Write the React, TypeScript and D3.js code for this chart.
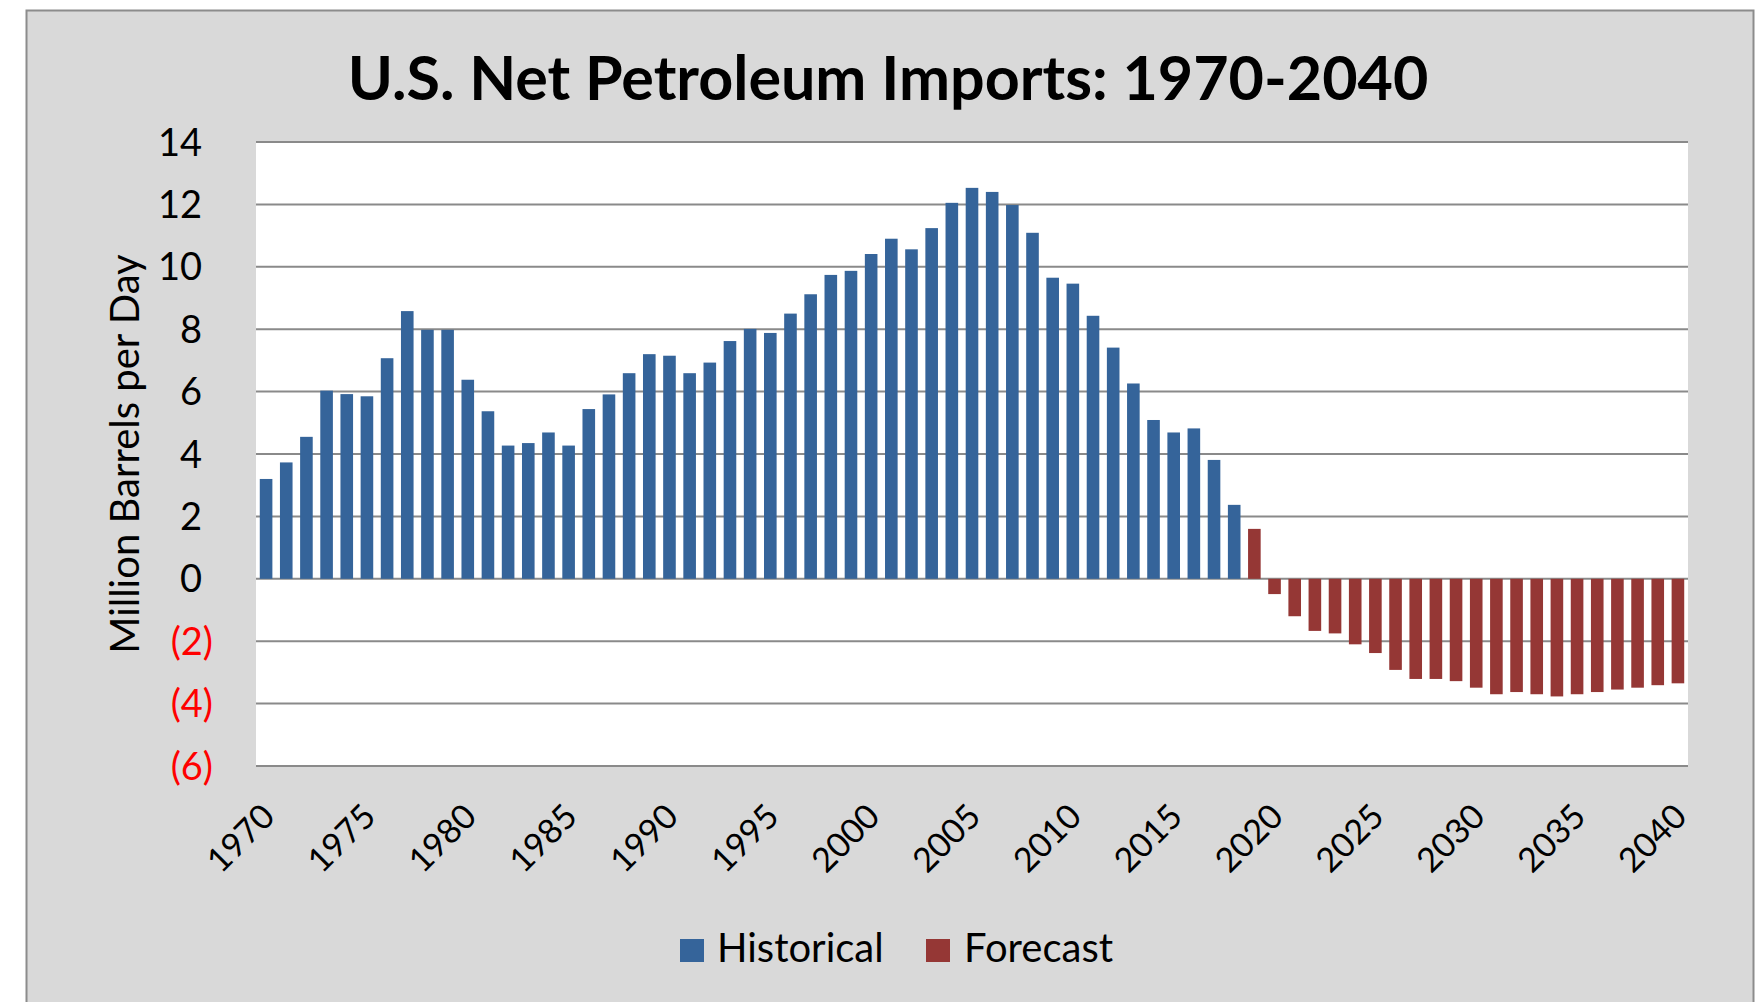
import React from 'react'
import * as d3 from 'd3'

// net imports, million barrels per day
const historicalYears = d3.range(1970, 2019)
const historical = [
  3.2, 3.73, 4.55, 6.03, 5.92, 5.85, 7.07, 8.58, 7.98, 7.98,
  6.38, 5.37, 4.27, 4.35, 4.69, 4.27, 5.44, 5.91, 6.59, 7.2,
  7.15, 6.59, 6.93, 7.62, 8.01, 7.88, 8.5, 9.12, 9.74, 9.87,
  10.41, 10.9, 10.56, 11.24, 12.05, 12.53, 12.4, 11.98, 11.09, 9.65,
  9.46, 8.43, 7.41, 6.26, 5.09, 4.69, 4.82, 3.81, 2.37,
]
const forecastYears = d3.range(2019, 2041)
const forecast = [
  1.6, -0.49, -1.2, -1.67, -1.75, -2.1, -2.38, -2.92, -3.21, -3.21,
  -3.28, -3.49, -3.7, -3.63, -3.7, -3.77, -3.7, -3.63, -3.55, -3.49,
  -3.41, -3.35,
]
const years = d3.range(1970, 2041)
const yTicks = [-6, -4, -2, 0, 2, 4, 6, 8, 10, 12, 14]
const xLabelYears = [1970, 1975, 1980, 1985, 1990, 1995, 2000, 2005, 2010, 2015, 2020, 2025, 2030, 2035, 2040]

const W = 1759
const H = 1002
const plot = { left: 256, right: 1688, top: 142, bottom: 766 }
const BLUE = '#35649a'
const RED = '#953735'
const FONT = 'Lato, "Open Sans", sans-serif'

const fmt = (v: number) => (v < 0 ? `(${Math.abs(v)})` : `${v}`)

export default function App() {
  const x = d3.scaleBand<number>()
    .domain(years)
    .range([plot.left, plot.right])
    .paddingInner(0.375)
    .paddingOuter(0.1875)

  const y = d3.scaleLinear()
    .domain([-6, 14])
    .range([plot.bottom, plot.top])

  const bars = [
    ...historicalYears.map((yr, i) => ({ year: yr, value: historical[i], color: BLUE })),
    ...forecastYears.map((yr, i) => ({ year: yr, value: forecast[i], color: RED })),
  ]

  return (
    <div style={{ position: 'absolute', left: 0, top: 0 }}>
      <svg width={W} height={H} style={{ display: 'block', fontFamily: FONT }}>
        <rect x={0} y={0} width={W} height={H} fill="#fff" />
        <rect x={26.5} y={10.5} width={1727} height={H} fill="#d9d9d9" stroke="#8c8c8c" strokeWidth={2} />

        {/* title */}
        <text x={888} y={100} textAnchor="middle" fontSize={61} fontWeight="bold" fill="#000">
          U.S. Net Petroleum Imports: 1970-2040
        </text>

        {/* plot area */}
        <rect x={plot.left} y={plot.top} width={plot.right - plot.left} height={plot.bottom - plot.top} fill="#fff" />
        {yTicks.map(t => (
          <line key={t} x1={plot.left} x2={plot.right} y1={y(t)} y2={y(t)} stroke="#8a8a8a" strokeWidth={2} />
        ))}

        {bars.map(d => (
          <rect key={d.year}
            x={x(d.year)}
            y={y(Math.max(0, d.value))}
            width={x.bandwidth()}
            height={Math.abs(y(d.value) - y(0))}
            fill={d.color} />
        ))}

        {/* y labels, positives padded like excel's _) */}
        {yTicks.map(t => (
          <text key={t} x={t < 0 ? 213 : 202} y={y(t)} dy="0.36em" textAnchor="end"
            fontSize={38} fill={t < 0 ? '#ff0000' : '#000'}>
            {fmt(t)}
          </text>
        ))}

        <text transform={`translate(125, ${454}) rotate(-90)`} textAnchor="middle" dy="0.36em"
          fontSize={40} fill="#000">
          Million Barrels per Day
        </text>

        {/* x labels */}
        {xLabelYears.map(yr => {
          const cx = x(yr)! + x.bandwidth() / 2
          return (
            <text key={yr} transform={`translate(${cx + 2}, ${plot.bottom + 44}) rotate(-45)`}
              textAnchor="end" dy="0.36em" fontSize={34} fill="#000">
              {yr}
            </text>
          )
        })}

        {/* legend */}
        <rect x={680} y={939} width={24} height={23} fill={BLUE} />
        <text x={717} y={962} fontSize={40} fill="#000">Historical</text>
        <rect x={926} y={939} width={24} height={23} fill={RED} />
        <text x={964} y={962} fontSize={40} fill="#000">Forecast</text>
      </svg>
    </div>
  )
}
